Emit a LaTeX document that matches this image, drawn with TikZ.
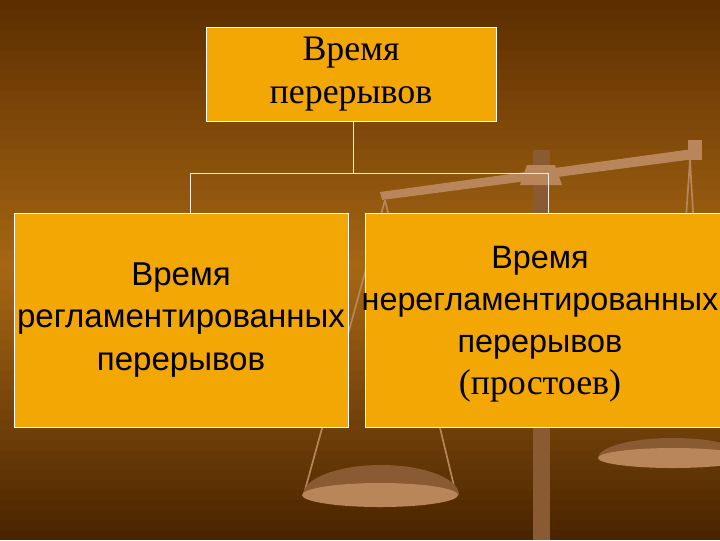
\documentclass[tikz,border=0pt]{standalone}
\usepackage{fontspec}
\setmainfont{Liberation Serif}
\newfontfamily\arialf{Liberation Sans}
\begin{document}
\begin{tikzpicture}[x=0.025cm,y=-0.025cm,
  box/.style={draw=white,line width=0.6pt,fill=boxor,inner sep=0pt,align=center},
  conn/.style={draw=white!85!brown,line width=0.6pt},
  scl/.style={draw=tanl,line width=1.2pt}]
\definecolor{boxor}{HTML}{F2A705}
\definecolor{tanl}{HTML}{B8865A}
\definecolor{tand}{HTML}{8A5A32}
\definecolor{bgtop}{HTML}{5C2E00}
\definecolor{bgmid}{HTML}{A86814}
\definecolor{bgbot}{HTML}{4A2400}
\useasboundingbox (0,0) rectangle (720,540);
\clip (0,0) rectangle (720,540);
\foreach \i in {0,...,26}{
  \pgfmathtruncatemacro{\p}{100-\i*100/27}
  \fill[bgtop!\p!bgmid] (0,\i*10) rectangle (720,\i*10+10.5);
  \fill[bgbot!\p!bgmid] (0,540-\i*10) rectangle (720,530-\i*10-0.5);
}
% decorative scale
\fill[tand] (533,150) rectangle (550,540);
\fill[tanl] (520,185) -- (562,185) -- (555,165) -- (527,165) -- cycle;
\fill[tanl] (380,192) -- (700,148) -- (702,158) -- (382,200) -- cycle;
\fill[tanl] (688,140) rectangle (702,160);
\draw[scl] (690,160) -- (672,420);
\draw[scl] (690,160) -- (705,420);
\draw[scl] (385,200) -- (305,490);
\draw[scl] (385,200) -- (455,490);
\fill[tand] (303,495) arc (180:360:78 and 30) -- cycle;
\fill[tanl] (380,495) ellipse (78 and 12);
\fill[tand] (598,458) arc (180:360:75 and 20) -- cycle;
\fill[tanl] (673,458) ellipse (75 and 10);
% boxes
\node[box,minimum width=290*0.025cm,minimum height=94*0.025cm,font=\fontsize{25.5}{30}\selectfont] (top) at (351,74) {Время\\перерывов};
\node[box,minimum width=334*0.025cm,minimum height=214*0.025cm,font=\arialf\fontsize{23.5}{30}\selectfont] (left) at (181,320) {Время\\регламентированных\\перерывов};
\node[box,minimum width=360*0.025cm,minimum height=214*0.025cm,anchor=west] (right) at (365,320) {};
\node[align=center,inner sep=0pt,font=\arialf\fontsize{23}{30}\selectfont] (rt) at (540,324) {Время\\нерегламентированных\\перерывов\\{\rmfamily\fontsize{25.5}{30}\selectfont (простоев)}};
\coordinate (j) at (353,173);
\coordinate (jl) at (190,173);
\coordinate (jr) at (548,173);
\draw[conn] (top.south -| j) -- (j);
\draw[conn] (jl) -- (jr);
\draw[conn] (jl) -- (jl |- left.north);
\draw[conn] (jr) -- (jr |- right.north);
\end{tikzpicture}
\end{document}
